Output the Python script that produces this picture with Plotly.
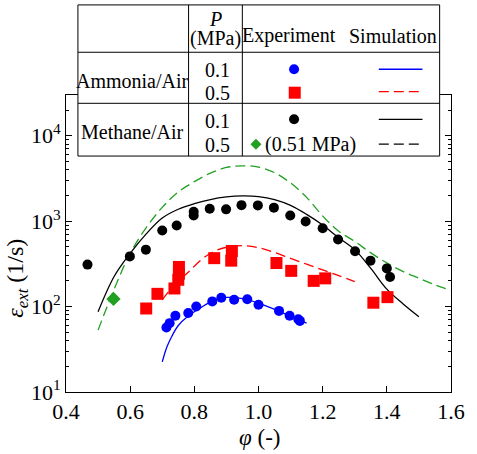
import numpy as np
import plotly.graph_objects as go

# ---- experimental data: equivalence ratio vs extinction strain rate (1/s) ----
nh3_01_phi = [0.713, 0.723, 0.741, 0.781, 0.806, 0.856, 0.884, 0.924, 0.965, 1.000, 1.064, 1.097, 1.124, 1.129]
nh3_01_val = [57, 64, 78, 84, 100, 115, 127, 120, 122, 105, 89, 78, 71, 68]

nh3_05_phi = [0.650, 0.685, 0.738, 0.750, 0.752, 0.752, 0.862, 0.915, 0.917, 1.056, 1.102, 1.172, 1.208, 1.358, 1.402]
nh3_05_val = [95, 141, 163, 206, 243, 291, 369, 345, 448, 324, 262, 200, 214, 111, 129]

ch4_01_phi = [0.467, 0.599, 0.649, 0.700, 0.745, 0.798, 0.798, 0.848, 0.899, 0.947, 0.998, 1.048,
              1.099, 1.147, 1.200, 1.248, 1.301, 1.349, 1.400, 1.410]
ch4_01_val = [310, 387, 464, 777, 890, 1290, 1167, 1400, 1375, 1540, 1530, 1440,
              1167, 991, 828, 610, 444, 345, 280, 222]

ch4_05_phi = [0.548]
ch4_05_val = [123]

# ---- simulation curves ----
sim_nh3_01_phi = [0.70, 0.715, 0.73, 0.75, 0.78, 0.82, 0.86, 0.90, 0.95, 1.00, 1.05, 1.10, 1.15]
sim_nh3_01_val = [22.5, 34, 45, 60, 77, 97, 118, 128, 124, 110, 93, 77, 64]

sim_nh3_05_phi = [0.70, 0.72, 0.75, 0.78, 0.82, 0.86, 0.90, 0.95, 1.00, 1.05, 1.10, 1.15, 1.20, 1.25, 1.30]
sim_nh3_05_val = [120, 150, 200, 250, 350, 440, 495, 518, 490, 430, 366, 314, 269, 230, 196]

sim_ch4_01_phi = [0.50, 0.55, 0.60, 0.65, 0.70, 0.75, 0.80, 0.85, 0.90, 0.95, 1.00, 1.05,
                  1.10, 1.15, 1.20, 1.25, 1.30, 1.35, 1.40, 1.45, 1.50]
sim_ch4_01_val = [87, 225, 420, 710, 1090, 1380, 1600, 1790, 1920, 1975, 1940, 1790,
                  1530, 1200, 900, 640, 464, 280, 160, 108, 76]

sim_ch4_05_phi = [0.50, 0.55, 0.60, 0.65, 0.70, 0.75, 0.80, 0.85, 0.90, 0.95, 1.00, 1.05,
                  1.10, 1.15, 1.20, 1.25, 1.30, 1.35, 1.40, 1.45, 1.50, 1.55, 1.60]
sim_ch4_05_val = [53, 160, 420, 840, 1450, 2200, 2900, 3650, 4250, 4450, 4300, 3700,
                  2800, 1900, 1150, 760, 580, 425, 325, 258, 215, 180, 155]

x_ticks = [0.4, 0.6, 0.8, 1.0, 1.2, 1.4, 1.6]
y_ticks = [10, 100, 1000, 10000]
y_ticktext = ["10<sup>1</sup>", "10<sup>2</sup>", "10<sup>3</sup>", "10<sup>4</sup>"]
# minor ticks at 2..9 of every decade
y_minor = [m * d for d in y_ticks for m in range(2, 10) if m * d <= 30000]

BLUE = "#0000ff"
RED = "#ff0000"
BLACK = "#000000"
GREEN = "#22a022"
FONT = "Liberation Serif"
DASH = "10px,5px"

fig = go.Figure()

# simulation lines
fig.add_trace(go.Scatter(x=sim_ch4_05_phi, y=sim_ch4_05_val, mode="lines",
                         line=dict(color=GREEN, width=1.3, dash=DASH, shape="spline")))
fig.add_trace(go.Scatter(x=sim_ch4_01_phi, y=sim_ch4_01_val, mode="lines",
                         line=dict(color=BLACK, width=1.3, shape="spline")))
fig.add_trace(go.Scatter(x=sim_nh3_05_phi, y=sim_nh3_05_val, mode="lines",
                         line=dict(color=RED, width=1.3, dash=DASH, shape="spline")))
fig.add_trace(go.Scatter(x=sim_nh3_01_phi, y=sim_nh3_01_val, mode="lines",
                         line=dict(color=BLUE, width=1.3, shape="spline")))

# experiment markers
fig.add_trace(go.Scatter(x=ch4_01_phi, y=ch4_01_val, mode="markers",
                         marker=dict(symbol="circle", size=10, color=BLACK, line=dict(width=0))))
fig.add_trace(go.Scatter(x=nh3_05_phi, y=nh3_05_val, mode="markers",
                         marker=dict(symbol="square", size=12, color=RED, line=dict(width=0))))
fig.add_trace(go.Scatter(x=nh3_01_phi, y=nh3_01_val, mode="markers",
                         marker=dict(symbol="circle", size=10, color=BLUE, line=dict(width=0))))
fig.add_trace(go.Scatter(x=ch4_05_phi, y=ch4_05_val, mode="markers",
                         marker=dict(symbol="diamond", size=11, color=GREEN, line=dict(width=0))))

# plot-area pixel bounds, used to place the table in paper coordinates
L, R, T, B = 66, 462.7, 95, 391.7


def px(xp):
    return (xp - L) / (R - L)


def py(yp):
    return (B - yp) / (B - T)


shapes = []
# table frame with white fill
shapes.append(dict(type="rect", xref="paper", yref="paper", layer="above",
                   x0=px(78.3), x1=px(451), y0=py(156), y1=py(5),
                   fillcolor="white", line=dict(color=BLACK, width=1)))
for xv in (192.3, 247.7):
    shapes.append(dict(type="line", xref="paper", yref="paper", layer="above",
                       x0=px(xv), x1=px(xv), y0=py(156), y1=py(5),
                       line=dict(color=BLACK, width=1)))
for yv in (52.3, 103.3):
    shapes.append(dict(type="line", xref="paper", yref="paper", layer="above",
                       x0=px(78.3), x1=px(451), y0=py(yv), y1=py(yv),
                       line=dict(color=BLACK, width=1)))

# simulation line samples
for yv, col, dash in ((69.3, BLUE, "solid"), (91.7, RED, DASH),
                      (119.3, BLACK, "solid"), (144.0, BLACK, DASH)):
    shapes.append(dict(type="line", xref="paper", yref="paper", layer="above",
                       x0=px(388.3), x1=px(433.3), y0=py(yv), y1=py(yv),
                       line=dict(color=col, width=1.3, dash=dash)))


def marker_shape(kind, cx, cy, color, h):
    base = dict(xref="paper", yref="paper", layer="above", xsizemode="pixel", ysizemode="pixel",
                xanchor=px(cx), yanchor=py(cy), fillcolor=color, line=dict(width=0))
    if kind == "circle":
        base.update(type="circle", x0=-h, x1=h, y0=-h, y1=h)
    elif kind == "square":
        base.update(type="rect", x0=-h, x1=h, y0=-h, y1=h)
    else:
        base.update(type="path", path=f"M 0 {h} L {h} 0 L 0 {-h} L {-h} 0 Z")
    return base


shapes.append(marker_shape("circle", 301, 69.3, BLUE, 5))
shapes.append(marker_shape("square", 301.7, 92.7, RED, 6))
shapes.append(marker_shape("circle", 301, 119.3, BLACK, 5))
shapes.append(marker_shape("diamond", 261.7, 144.3, GREEN, 5.5))

ann = []


def text(s, cx, cy, size=20, **kw):
    ann.append(dict(text=s, x=px(cx), y=py(cy), xref="paper", yref="paper", showarrow=False,
                    xanchor="center", yanchor="middle", font=dict(family=FONT, size=size, color=BLACK), **kw))


text("<i>P</i>", 220, 19)
text("(MPa)", 220, 39)
text("Experiment", 296, 36)
text("Simulation", 403, 36)
text("Ammonia/Air", 135, 81)
text("0.1", 221.7, 70)
text("0.5", 221.7, 93)
text("Methane/Air", 135, 132)
text("0.1", 221.7, 121)
text("0.5", 221.7, 145)
text("(0.51 MPa)", 318, 144)

# axis titles
text("<i>ε<sub>ext</sub></i> (1/s)", 16, 278, size=24, textangle=-90)
text("<i>φ</i> (-)", 265, 437, size=23)

fig.update_layout(
    width=477, height=454,
    margin=dict(l=L, r=477 - R, t=T, b=454 - B, pad=0),
    paper_bgcolor="white", plot_bgcolor="white",
    showlegend=False,
    shapes=shapes, annotations=ann,
    font=dict(family=FONT, size=22, color=BLACK),
)
fig.update_xaxes(range=[0.4, 1.6], tickvals=x_ticks, ticktext=[f"{v:.1f}" for v in x_ticks],
                 ticks="inside", ticklen=6, tickcolor=BLACK, showline=True, linecolor=BLACK,
                 linewidth=1, mirror="ticks", showgrid=False, zeroline=False,
                 tickfont=dict(family=FONT, size=22, color=BLACK))
fig.update_yaxes(type="log", range=[1, np.log10(30000)], tickvals=y_ticks, ticktext=y_ticktext,
                 ticks="inside", ticklen=6, tickcolor=BLACK, showline=True, linecolor=BLACK,
                 linewidth=1, mirror="ticks", showgrid=False, zeroline=False,
                 minor=dict(tickvals=y_minor, ticks="inside", ticklen=3, tickcolor=BLACK, showgrid=False),
                 tickfont=dict(family=FONT, size=22, color=BLACK))

fig.write_html("out.html")
